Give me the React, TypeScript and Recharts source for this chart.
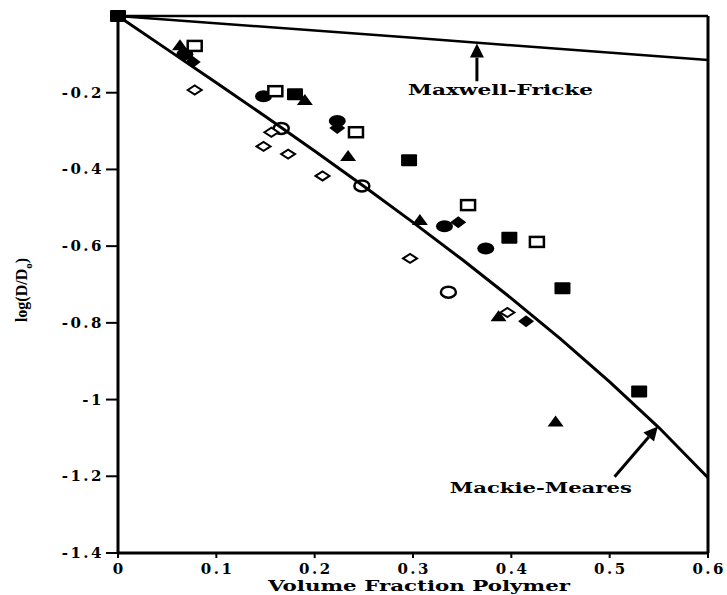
import React from "react";
import {
  ScatterChart,
  Scatter,
  XAxis,
  YAxis,
  ReferenceLine,
  ReferenceDot,
  Label,
} from "recharts";

// ---------- data ----------
const xTicks = [0, 0.1, 0.2, 0.3, 0.4, 0.5, 0.6];
const xTickLabels = ["0", "0.1", "0.2", "0.3", "0.4", "0.5", "0.6"];
const yTicks = [-1.4, -1.2, -1, -0.8, -0.6, -0.4, -0.2];
const yTickLabels = ["-1.4", "-1.2", "-1", "-0.8", "-0.6", "-0.4", "-0.2"];

const mackieMeares = [
  { x: 0, y: 0 },
  { x: 0.05, y: -0.087 },
  { x: 0.1, y: -0.174 },
  { x: 0.15, y: -0.262 },
  { x: 0.2, y: -0.352 },
  { x: 0.25, y: -0.444 },
  { x: 0.3, y: -0.538 },
  { x: 0.35, y: -0.635 },
  { x: 0.4, y: -0.736 },
  { x: 0.45, y: -0.842 },
  { x: 0.5, y: -0.954 },
  { x: 0.55, y: -1.073 },
  { x: 0.6, y: -1.204 },
];
const maxwellFricke = [
  { x: 0, y: 0 },
  { x: 0.3, y: -0.057 },
  { x: 0.6, y: -0.115 },
];

const filledSquare = [
  { x: 0, y: 0 },
  { x: 0.18, y: -0.204 },
  { x: 0.296, y: -0.376 },
  { x: 0.398, y: -0.578 },
  { x: 0.452, y: -0.71 },
  { x: 0.53, y: -0.979 },
];
const openSquare = [
  { x: 0.078, y: -0.078 },
  { x: 0.16, y: -0.196 },
  { x: 0.242, y: -0.303 },
  { x: 0.356, y: -0.493 },
  { x: 0.426, y: -0.589 },
];
const filledTriangle = [
  { x: 0.063, y: -0.076 },
  { x: 0.19, y: -0.219 },
  { x: 0.234, y: -0.365 },
  { x: 0.307, y: -0.532 },
  { x: 0.387, y: -0.783 },
  { x: 0.445, y: -1.057 },
];
const filledCircle = [
  { x: 0.068, y: -0.1 },
  { x: 0.148, y: -0.209 },
  { x: 0.223, y: -0.274 },
  { x: 0.332, y: -0.548 },
  { x: 0.374, y: -0.606 },
];
const filledDiamond = [
  { x: 0.076, y: -0.12 },
  { x: 0.223, y: -0.292 },
  { x: 0.346, y: -0.538 },
  { x: 0.415, y: -0.796 },
];
const openDiamond = [
  { x: 0.078, y: -0.193 },
  { x: 0.148, y: -0.34 },
  { x: 0.156, y: -0.303 },
  { x: 0.173, y: -0.36 },
  { x: 0.208, y: -0.417 },
  { x: 0.297, y: -0.632 },
  { x: 0.396, y: -0.773 },
];
const openCircle = [
  { x: 0.166, y: -0.293 },
  { x: 0.248, y: -0.443 },
  { x: 0.336, y: -0.72 },
];

const maxwellArrow = [
  { x: 0.365, y: -0.17 },
  { x: 0.365, y: -0.072 },
];
const mackieArrow = [
  { x: 0.505, y: -1.201 },
  { x: 0.549, y: -1.07 },
];
const maxwellText = { x: 0.389, y: -0.19, text: "Maxwell-Fricke" };
const mackieText = { x: 0.43, y: -1.227, text: "Mackie-Meares" };

// ---------- styles ----------
const FONT = "'DejaVu Serif', 'Liberation Serif', serif";
const INK = "#000";

// ---------- marker shapes ----------
const FilledSquare = (p: any) => (
  <rect x={p.cx - 8} y={p.cy - 6} width={16} height={12} rx={1} fill={INK} />
);
const OpenSquare = (p: any) => (
  <rect
    x={p.cx - 7}
    y={p.cy - 5}
    width={14}
    height={10}
    fill="#fff"
    stroke={INK}
    strokeWidth={2.5}
  />
);
const FilledTriangle = (p: any) => (
  <polygon
    points={`${p.cx},${p.cy - 6} ${p.cx + 8},${p.cy + 5} ${p.cx - 8},${p.cy + 5}`}
    fill={INK}
  />
);
const FilledCircle = (p: any) => (
  <ellipse cx={p.cx} cy={p.cy} rx={8.5} ry={6} fill={INK} />
);
const OpenCircle = (p: any) => (
  <ellipse
    cx={p.cx}
    cy={p.cy}
    rx={7.5}
    ry={5.5}
    fill="none"
    stroke={INK}
    strokeWidth={2.5}
  />
);
const FilledDiamond = (p: any) => (
  <polygon
    points={`${p.cx - 8},${p.cy} ${p.cx},${p.cy - 6} ${p.cx + 8},${p.cy} ${p.cx},${p.cy + 6}`}
    fill={INK}
  />
);
const OpenDiamond = (p: any) => (
  <polygon
    points={`${p.cx - 7},${p.cy} ${p.cx},${p.cy - 4.5} ${p.cx + 7},${p.cy} ${p.cx},${p.cy + 4.5}`}
    fill="#fff"
    stroke={INK}
    strokeWidth={2}
  />
);
const NoDot = () => <g />;

// ---------- ticks ----------
const XTick = (p: any) => {
  const i = xTicks.indexOf(p.payload.value);
  return (
    <text
      x={p.x + 1.25}
      y={p.y + 14}
      textAnchor="middle"
      fontFamily={FONT}
      fontWeight="bold"
      fontSize={15}
      letterSpacing={2.5}
      fill={INK}
    >
      {i >= 0 ? xTickLabels[i] : ""}
    </text>
  );
};
const YTick = (p: any) => {
  const i = yTicks.findIndex((t) => Math.abs(t - p.payload.value) < 1e-9);
  return (
    <text
      x={p.x + 2}
      y={p.y + 5}
      textAnchor="end"
      fontFamily={FONT}
      fontWeight="bold"
      fontSize={15}
      letterSpacing={2.5}
      fill={INK}
    >
      {i >= 0 ? yTickLabels[i] : ""}
    </text>
  );
};

// ---------- arrows ----------
const arrowShape = (p: any) => {
  const { x1, y1, x2, y2 } = p;
  if (x1 == null) return <g />;
  const ang = Math.atan2(y2 - y1, x2 - x1);
  const L = 14;
  const W = 7;
  const bx = x2 - L * Math.cos(ang);
  const by = y2 - L * Math.sin(ang);
  const px = -Math.sin(ang) * W;
  const py = Math.cos(ang) * W;
  return (
    <g>
      <line x1={x1} y1={y1} x2={bx} y2={by} stroke={INK} strokeWidth={3} />
      <polygon
        points={`${x2},${y2} ${bx + px},${by + py} ${bx - px},${by - py}`}
        fill={INK}
      />
    </g>
  );
};

const textShape = (label: string, len: number) => (p: any) => (
  <text
    x={p.cx}
    y={p.cy + 6}
    textAnchor="middle"
    fontFamily={FONT}
    fontWeight="bold"
    fontSize={15}
    textLength={len}
    lengthAdjust="spacingAndGlyphs"
    fill={INK}
  >
    {label}
  </text>
);

const YLabel = () => {
  const cx = 27;
  const cy = 290;
  return (
    <text
      x={cx}
      y={cy}
      transform={`rotate(-90 ${cx} ${cy})`}
      textAnchor="middle"
      fontFamily="'Liberation Serif', serif"
      fontWeight="bold"
      fontSize={16}
      fill={INK}
    >
      <tspan>log(D/D</tspan>
      <tspan dy={5} fontSize={11}>
        o
      </tspan>
      <tspan dy={-5}>)</tspan>
    </text>
  );
};

const XLabel = () => (
  <text
    x={419}
    y={591}
    textAnchor="middle"
    fontFamily={FONT}
    fontWeight="bold"
    fontSize={15}
    textLength={302}
    lengthAdjust="spacingAndGlyphs"
    fill={INK}
  >
    Volume Fraction Polymer
  </text>
);

export default function App() {
  return (
    <div style={{ position: "absolute", left: 0, top: 0, background: "#fff" }}>
      <ScatterChart
        width={727}
        height={595}
        margin={{ top: 16, right: 19, left: 0, bottom: 12 }}
      >
        <XAxis
          type="number"
          dataKey="x"
          domain={[0, 0.6]}
          ticks={xTicks}
          tick={<XTick />}
          tickSize={5}
          tickMargin={2}
          height={30}
          axisLine={{ stroke: INK, strokeWidth: 3 }}
          tickLine={{ stroke: INK, strokeWidth: 2 }}
          interval={0}
        >
          <Label content={<XLabel />} />
        </XAxis>
        <YAxis
          type="number"
          dataKey="y"
          domain={[-1.4, 0]}
          ticks={yTicks}
          tick={<YTick />}
          tickSize={12}
          tickMargin={4}
          width={118}
          axisLine={{ stroke: INK, strokeWidth: 3 }}
          tickLine={{ stroke: INK, strokeWidth: 2 }}
          interval={0}
        >
          <Label content={<YLabel />} />
        </YAxis>

        <ReferenceLine y={0} stroke={INK} strokeWidth={2.5} />
        <ReferenceLine x={0.6} stroke={INK} strokeWidth={3} />

        <Scatter
          data={maxwellFricke}
          line={{ stroke: INK, strokeWidth: 2.5 }}
          lineType="joint"
          shape={<NoDot />}
          isAnimationActive={false}
        />
        <Scatter
          data={mackieMeares}
          line={{ stroke: INK, strokeWidth: 3 }}
          lineType="joint"
          shape={<NoDot />}
          isAnimationActive={false}
        />

        <Scatter data={filledSquare} shape={<FilledSquare />} isAnimationActive={false} />
        <Scatter data={filledTriangle} shape={<FilledTriangle />} isAnimationActive={false} />
        <Scatter data={filledCircle} shape={<FilledCircle />} isAnimationActive={false} />
        <Scatter data={filledDiamond} shape={<FilledDiamond />} isAnimationActive={false} />
        <Scatter data={openSquare} shape={<OpenSquare />} isAnimationActive={false} />
        <Scatter data={openCircle} shape={<OpenCircle />} isAnimationActive={false} />
        <Scatter data={openDiamond} shape={<OpenDiamond />} isAnimationActive={false} />

        <ReferenceLine
          segment={maxwellArrow}
          shape={arrowShape}
          ifOverflow="visible"
        />
        <ReferenceLine
          segment={mackieArrow}
          shape={arrowShape}
          ifOverflow="visible"
        />
        <ReferenceDot
          x={maxwellText.x}
          y={maxwellText.y}
          r={0}
          shape={textShape(maxwellText.text, 185)}
          ifOverflow="visible"
        />
        <ReferenceDot
          x={mackieText.x}
          y={mackieText.y}
          r={0}
          shape={textShape(mackieText.text, 182)}
          ifOverflow="visible"
        />
      </ScatterChart>
    </div>
  );
}
